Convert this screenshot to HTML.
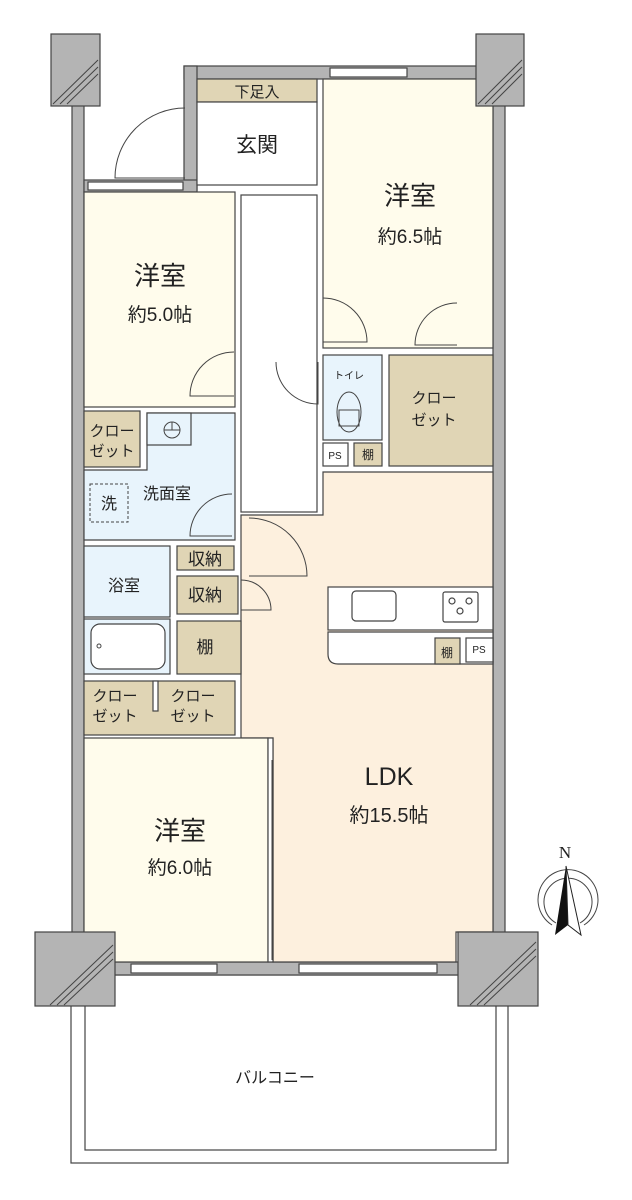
<!DOCTYPE html>
<html><head><meta charset="utf-8"><style>
html,body{margin:0;padding:0;background:#fff}
svg{display:block}
text{font-family:"Liberation Sans","Noto Sans CJK JP",sans-serif;fill:#222}
</style></head><body>
<svg width="632" height="1200" viewBox="0 0 632 1200" xmlns="http://www.w3.org/2000/svg">
<g stroke="#444" stroke-width="1.2">
<!-- balcony -->
<rect x="71" y="975" width="437" height="188" fill="#fff"/>
<rect x="85" y="975" width="411" height="175" fill="#fff"/>
<!-- outer walls -->
<rect x="72" y="100" width="12" height="840" fill="#b4b4b4"/>
<rect x="493" y="100" width="12" height="840" fill="#b4b4b4"/>
<rect x="184" y="66" width="309" height="13" fill="#b4b4b4"/>
<rect x="184" y="66" width="13" height="124" fill="#b4b4b4"/>
<rect x="84" y="180" width="113" height="12" fill="#b4b4b4"/>
<rect x="84" y="962" width="400" height="13" fill="#b4b4b4"/>
<!-- rooms -->
<rect x="197" y="79" width="120" height="23" fill="#e0d5b5"/>
<rect x="197" y="102" width="120" height="83" fill="#fff"/>
<rect x="84" y="192" width="151" height="215" fill="#fffcec"/>
<rect x="241" y="195" width="76" height="317" fill="#fff"/>
<rect x="323" y="79" width="170" height="269" fill="#fffcec"/>
<rect x="323" y="355" width="59" height="85" fill="#e8f4fc"/>
<rect x="323" y="443" width="25" height="23" fill="#fff"/>
<rect x="354" y="443" width="28" height="23" fill="#e0d5b5"/>
<rect x="389" y="355" width="104" height="111" fill="#e0d5b5"/>
<path d="M323 472 H493 V932 H456 V962 H273 V738 H241 V515 H323 Z" fill="#fdf0de"/>
<path d="M147 413 H235 V540 H84 V470 H147 Z" fill="#e8f4fc"/>
<rect x="84" y="411" width="56" height="56" fill="#e0d5b5"/>
<rect x="147" y="413" width="44" height="32" fill="#e8f4fc"/>
<rect x="84" y="546" width="86" height="71" fill="#e8f4fc"/>
<rect x="84" y="619" width="86" height="55" fill="#e8f4fc"/>
<rect x="91" y="624" width="74" height="45" rx="9" fill="#fff"/>
<rect x="177" y="546" width="57" height="24" fill="#e0d5b5"/>
<rect x="177" y="576" width="61" height="38" fill="#e0d5b5"/>
<rect x="177" y="621" width="64" height="53" fill="#e0d5b5"/>
<rect x="84" y="681" width="151" height="54" fill="#e0d5b5"/>
<rect x="153" y="681" width="5" height="30" fill="#fff"/>
<rect x="84" y="738" width="184" height="224" fill="#fffcec"/>
<rect x="268" y="738" width="5" height="224" fill="#fff"/>
<!-- kitchen -->
<rect x="328" y="587" width="165" height="43" fill="#fff"/>
<path d="M328 632 H493 V664 H338 Q328 664 328 654 Z" fill="#fff"/>
<rect x="435" y="638" width="25" height="26" fill="#e0d5b5"/>
<rect x="466" y="638" width="27" height="24" fill="#fff"/>
<rect x="352" y="591" width="44" height="30" rx="4" fill="#fff"/>
<rect x="443" y="592" width="35" height="30" rx="2" fill="#fff"/>
<circle cx="452" cy="601" r="3" fill="none"/><circle cx="469" cy="601" r="3" fill="none"/><circle cx="460" cy="611" r="3" fill="none"/>
<!-- windows -->
<rect x="330" y="68" width="77" height="9" fill="#fff"/>
<rect x="88" y="182" width="95" height="8" fill="#fff"/>
<rect x="131" y="964" width="86" height="9" fill="#fff"/>
<rect x="299" y="964" width="138" height="9" fill="#fff"/>
<!-- pillars -->
<rect x="51" y="34" width="49" height="72" fill="#b4b4b4"/>
<rect x="476" y="34" width="48" height="72" fill="#b4b4b4"/>
<rect x="35" y="932" width="80" height="74" fill="#b4b4b4"/>
<rect x="458" y="932" width="80" height="74" fill="#b4b4b4"/>
</g>
<g stroke="#444" stroke-width="1" fill="none">
<path d="M53 104 L98 60 M60 104 L98 67 M67 104 L98 74"/>
<path d="M478 104 L522 60 M485 104 L522 67 M492 104 L522 74"/>
<path d="M50 1005 L113 945 M57 1005 L113 952 M64 1005 L113 959"/>
<path d="M470 1005 L536 942 M477 1005 L536 949 M484 1005 L536 956"/>
<!-- doors -->
<path d="M185 108 A70 70 0 0 0 115 178 H185"/>
<path d="M234 352 A44 44 0 0 0 190 396 H234"/>
<path d="M323 298 A44 44 0 0 1 367 342 H323"/>
<path d="M457 303 A42 42 0 0 0 415 345 H457"/>
<path d="M276 362 A42 42 0 0 0 318 404 V362"/>
<path d="M232 494 A42 42 0 0 0 190 536 H232"/>
<path d="M249 518 A58 58 0 0 1 307 576 L249 576"/>
<path d="M241 580 A30 30 0 0 1 271 610 L241 610"/>
<rect x="90" y="484" width="38" height="38" stroke-dasharray="3,2"/>
<circle cx="172" cy="430" r="8"/><path d="M172 422 V430 M164 430 H180"/>
<ellipse cx="349" cy="412" rx="12" ry="20"/><rect x="339" y="410" width="20" height="16"/>
<circle cx="99" cy="646" r="2"/>
<line x1="272" y1="760" x2="272" y2="960"/>
<path d="M552 925 A30 30 0 1 1 584 925"/>
<path d="M556 923 A24 24 0 1 1 580 923"/>
</g>
<path d="M566 866 L555 935 L568 925 Z" fill="#111"/>
<path d="M566 866 L581 935 L568 925 Z" fill="#fff" stroke="#222"/>
<text x="565" y="858" font-size="17" text-anchor="middle" style="font-family:'Liberation Serif',serif">N</text>
<g text-anchor="middle">
<text x="257" y="97" font-size="15">下足入</text>
<text x="257" y="152" font-size="21">玄関</text>
<text x="410" y="205" font-size="26">洋室</text>
<text x="410" y="243" font-size="19">約6.5帖</text>
<text x="160" y="285" font-size="26">洋室</text>
<text x="160" y="321" font-size="19">約5.0帖</text>
<text x="349" y="379" font-size="10">トイレ</text>
<text x="335" y="459" font-size="10">PS</text>
<text x="368" y="459" font-size="12">棚</text>
<text x="434" y="403" font-size="15">クロー</text>
<text x="434" y="425" font-size="15">ゼット</text>
<text x="112" y="436" font-size="15">クロー</text>
<text x="112" y="456" font-size="15">ゼット</text>
<text x="109" y="509" font-size="16">洗</text>
<text x="167" y="499" font-size="16">洗面室</text>
<text x="124" y="591" font-size="16">浴室</text>
<text x="205" y="565" font-size="17">収納</text>
<text x="205" y="601" font-size="17">収納</text>
<text x="205" y="653" font-size="17">棚</text>
<text x="115" y="701" font-size="15">クロー</text>
<text x="115" y="721" font-size="15">ゼット</text>
<text x="193" y="701" font-size="15">クロー</text>
<text x="193" y="721" font-size="15">ゼット</text>
<text x="447" y="657" font-size="12">棚</text>
<text x="479" y="653" font-size="10">PS</text>
<text x="389" y="785" font-size="25">LDK</text>
<text x="389" y="822" font-size="20">約15.5帖</text>
<text x="180" y="840" font-size="26">洋室</text>
<text x="180" y="874" font-size="19">約6.0帖</text>
<text x="275" y="1083" font-size="16">バルコニー</text>
</g>
</svg>
</body></html>
